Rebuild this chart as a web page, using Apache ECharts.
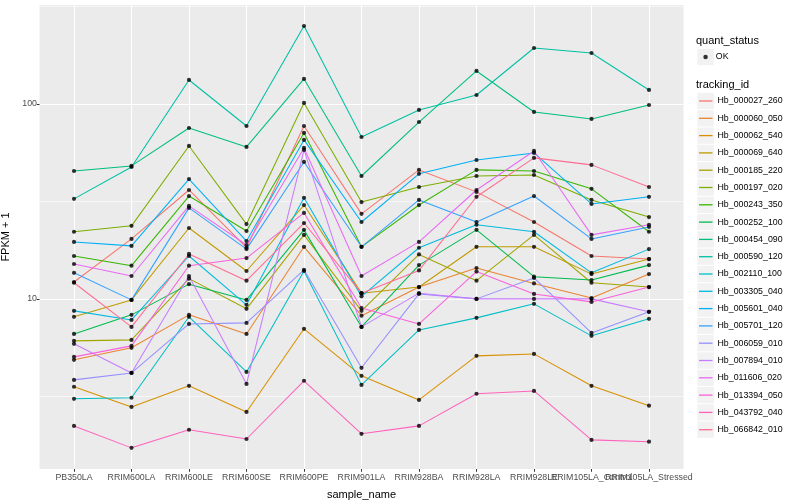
<!DOCTYPE html>
<html><head><meta charset="utf-8">
<script src="https://cdn.jsdelivr.net/npm/echarts@6/dist/echarts.min.js"></script>
<style>html,body{margin:0;padding:0;background:#fff}#c{width:800px;height:500px}</style>
</head><body><div id="c"></div>
<script>
// ---- data ----
const categories = ['PB350LA','RRIM600LA','RRIM600LE','RRIM600SE','RRIM600PE','RRIM901LA','RRIM928BA','RRIM928LA','RRIM928LE','RRIM105LA_Control','RRIM105LA_Stressed'];
const trackingIds = ['Hb_000027_260','Hb_000060_050','Hb_000062_540','Hb_000069_640','Hb_000185_220','Hb_000197_020','Hb_000243_350','Hb_000252_100','Hb_000454_090','Hb_000590_120','Hb_002110_100','Hb_003305_040','Hb_005601_040','Hb_005701_120','Hb_006059_010','Hb_007894_010','Hb_011606_020','Hb_013394_050','Hb_043792_040','Hb_066842_010'];
const quantStatus = ['OK'];
const yTickLabels = [10, 100];
const minorBreaks = [3.162, 31.62, 316.2];

const Hb_000027_260 = [12.2, 20.3, 36.2, 18.3, 77.1, 27.3, 45.9, 35.4, 24.8, 16.6, 16.0];
const Hb_000060_050 = [4.87, 5.61, 8.28, 6.61, 18.5, 8.2, 11.5, 14.4, 12.0, 10.1, 13.4];
const Hb_000062_540 = [3.54, 2.79, 3.58, 2.63, 7.02, 4.03, 3.03, 5.10, 5.22, 3.58, 2.83];
const Hb_000069_640 = [8.09, 9.88, 23.1, 13.9, 30.3, 10.7, 11.5, 18.5, 18.5, 13.4, 16.0];
const Hb_000185_220 = [6.09, 6.16, 12.7, 8.89, 21.3, 8.68, 16.9, 12.4, 21.3, 12.1, 11.5];
const Hb_000197_020 = [22.1, 23.7, 60.9, 24.2, 101.2, 31.4, 37.5, 42.7, 43.2, 32.2, 26.3];
const Hb_000243_350 = [16.6, 14.8, 33.7, 22.3, 71.0, 18.5, 30.3, 45.9, 45.3, 36.7, 22.1];
const Hb_000252_100 = [6.61, 8.28, 11.9, 9.88, 22.6, 7.18, 14.9, 22.6, 13.0, 12.5, 14.9];
const Hb_000454_090 = [45.3, 48.1, 75.3, 60.2, 134.4, 42.7, 80.8, 147.7, 91.0, 83.8, 98.8];
const Hb_000590_120 = [32.6, 47.5, 132.8, 77.1, 251.2, 67.7, 93.2, 111.2, 193.8, 182.6, 118.0];
const Hb_002110_100 = [3.07, 3.11, 8.09, 4.22, 13.9, 3.62, 6.93, 7.99, 9.43, 6.46, 7.90];
const Hb_003305_040 = [8.68, 7.80, 16.6, 9.32, 33.0, 10.3, 18.3, 24.0, 22.1, 13.6, 18.0];
const Hb_005601_040 = [19.6, 18.7, 41.2, 19.8, 65.4, 24.8, 43.8, 51.6, 56.1, 30.7, 33.4];
const Hb_005701_120 = [13.6, 9.88, 29.3, 18.0, 50.4, 18.5, 32.2, 24.8, 33.7, 20.3, 23.4];
const Hb_006059_010 = [3.84, 4.17, 7.44, 7.53, 14.1, 4.43, 10.6, 10.0, 12.8, 6.69, 8.58];
const Hb_007894_010 = [5.88, 4.17, 13.1, 3.66, 58.1, 7.18, 10.7, 10.0, 10.0, 10.0, 8.58];
const Hb_011606_020 = [15.1, 13.1, 30.0, 18.9, 59.5, 13.1, 19.6, 36.2, 57.4, 21.3, 24.0];
const Hb_013394_050 = [5.04, 5.74, 14.8, 16.2, 27.6, 8.98, 7.44, 13.8, 10.6, 9.65, 11.5];
const Hb_043792_040 = [2.23, 1.72, 2.13, 1.91, 3.80, 2.03, 2.23, 3.26, 3.37, 1.89, 1.85];
const Hb_066842_010 = [12.1, 7.18, 17.0, 12.4, 24.5, 10.7, 14.0, 33.4, 52.9, 48.7, 37.5];

const seriesValues = [Hb_000027_260, Hb_000060_050, Hb_000062_540, Hb_000069_640, Hb_000185_220,
  Hb_000197_020, Hb_000243_350, Hb_000252_100, Hb_000454_090, Hb_000590_120, Hb_002110_100,
  Hb_003305_040, Hb_005601_040, Hb_005701_120, Hb_006059_010, Hb_007894_010, Hb_011606_020,
  Hb_013394_050, Hb_043792_040, Hb_066842_010];

// ---- styles ----
const colors = ['#F8766D','#EA8331','#D89000','#C09B00','#A3A500','#7CAE00','#39B600','#00BB4E','#00BF7D','#00C1A3','#00BFC4','#00BAE0','#00B0F6','#35A2FF','#9590FF','#C77CFF','#E76BF3','#FA62DB','#FF62BC','#FF6C91'];
const FONT = 'Liberation Sans, Arial, sans-serif';
const panel = {x: 39.5, y: 5, w: 644, h: 464};
const step = panel.w / (categories.length + 0.2);
const catIndex = categories.map((c, j) => j);
const legTop = 92.35, legStep = 17.3;

const lineSeries = trackingIds.map((id, i) => ({
  name: id, type: 'line', xAxisIndex: 0, yAxisIndex: 0,
  data: catIndex.map(j => [j, seriesValues[i][j]]), symbol: 'none',
  lineStyle: {color: colors[i], width: 1.05}, itemStyle: {color: colors[i]},
  z: 2, silent: true
}));
lineSeries[0].markLine = {silent: true, symbol: 'none', z: 1, label: {show: false},
  lineStyle: {color: '#FFFFFF', width: 0.55, type: 'solid'}, emphasis: {disabled: true},
  data: minorBreaks.map(v => ({yAxis: v}))};

const pointData = [];
seriesValues.forEach(vals => catIndex.forEach(j => pointData.push([j, vals[j]])));

const graphics = [
  {type: 'rect', z: -100, silent: true, shape: {x: panel.x, y: panel.y, width: panel.w, height: panel.h}, style: {fill: '#EBEBEB'}},
  {type: 'text', x: 696, y: 40.5, silent: true, style: {text: 'quant_status', font: '11px ' + FONT, fill: '#000', verticalAlign: 'middle'}},
  {type: 'text', x: 696, y: 84.5, silent: true, style: {text: 'tracking_id', font: '11px ' + FONT, fill: '#000', verticalAlign: 'middle'}},
  {type: 'rect', z: -50, silent: true, shape: {x: 697.3, y: 57 - 8.15, width: 16.5, height: 16.3}, style: {fill: '#F2F2F2'}}
];
trackingIds.forEach((id, i) => {
  const cy = legTop + i * legStep + legStep / 2;
  graphics.push({type: 'rect', z: -50, silent: true, shape: {x: 697.3, y: cy - 8.15, width: 16.5, height: 16.3}, style: {fill: '#F2F2F2'}});
});

const option = {
  animation: false,
  backgroundColor: '#fff',
  textStyle: {fontFamily: FONT},
  graphic: graphics,
  grid: [
    {left: panel.x, top: panel.y, width: panel.w, height: panel.h, containLabel: false, outerBoundsMode: 'none'},
    {left: panel.x + 0.1 * step, top: panel.y, width: step * categories.length, height: panel.h, containLabel: false, outerBoundsMode: 'none'}
  ],
  xAxis: [
    {
      gridIndex: 0, type: 'value', min: -0.6, max: 10.6,
      axisLine: {show: false, onZero: false},
      axisTick: {show: false, customValues: catIndex},
      axisLabel: {show: false, customValues: catIndex},
      splitLine: {show: true, lineStyle: {color: '#FFFFFF', width: 1.05}}
    },
    {
      gridIndex: 1, type: 'category', data: categories, boundaryGap: true,
      axisLine: {show: false, onZero: false},
      axisTick: {show: true, alignWithLabel: true, interval: 0, length: 2.75, lineStyle: {color: '#333333', width: 1}},
      axisLabel: {interval: 0, color: '#4D4D4D', fontSize: 8.8, fontFamily: FONT, margin: 4, hideOverlap: false},
      splitLine: {show: false},
      name: 'sample_name', nameLocation: 'middle', nameGap: 20,
      nameTextStyle: {fontSize: 11, color: '#000', fontFamily: FONT}
    }
  ],
  yAxis: [
    {
      gridIndex: 0, type: 'log', logBase: 10, min: 1.34, max: 322,
      axisLine: {show: false, onZero: false},
      axisTick: {show: true, length: 2.75, customValues: yTickLabels, lineStyle: {color: '#333333', width: 1}},
      axisLabel: {color: '#4D4D4D', fontSize: 8.8, fontFamily: FONT, margin: 2.5, customValues: yTickLabels,
        hideOverlap: false, formatter: v => String(Math.round(v))},
      splitLine: {show: true, lineStyle: {color: '#FFFFFF', width: 1.1}},
      name: 'FPKM + 1', nameLocation: 'middle', nameGap: 27.5, nameRotate: 90,
      nameTextStyle: {fontSize: 11, color: '#000', fontFamily: FONT}
    },
    {gridIndex: 1, type: 'value', min: 0, max: 1, show: false, axisLine: {onZero: false}}
  ],
  legend: [
    {data: [{name: quantStatus[0], icon: 'circle', itemStyle: {color: '#000'}}],
     orient: 'vertical', left: 703.3, top: 48.5, padding: 0, itemWidth: 4.5, itemHeight: 4.5,
     selectedMode: false, textStyle: {fontSize: 8.8, color: '#000', lineHeight: 17, fontFamily: FONT, padding: [0, 0, 0, 3]}},
    {data: trackingIds.map((id, i) => ({name: id, icon: 'rect', itemStyle: {color: colors[i]}})),
     orient: 'vertical', left: 699, top: legTop, padding: 0, itemWidth: 13.5, itemHeight: 1.3, itemGap: 0,
     selectedMode: false, textStyle: {fontSize: 8.8, color: '#000', lineHeight: legStep, fontFamily: FONT}}
  ],
  series: [
    ...lineSeries,
    {name: quantStatus[0], type: 'scatter', xAxisIndex: 0, yAxisIndex: 0, data: pointData, symbol: 'circle', symbolSize: 4.2,
     itemStyle: {color: '#000'}, z: 5, silent: true}
  ]
};
const chart = echarts.init(document.getElementById('c'), null, {renderer: 'canvas'});
chart.setOption(option);
</script></body></html>
